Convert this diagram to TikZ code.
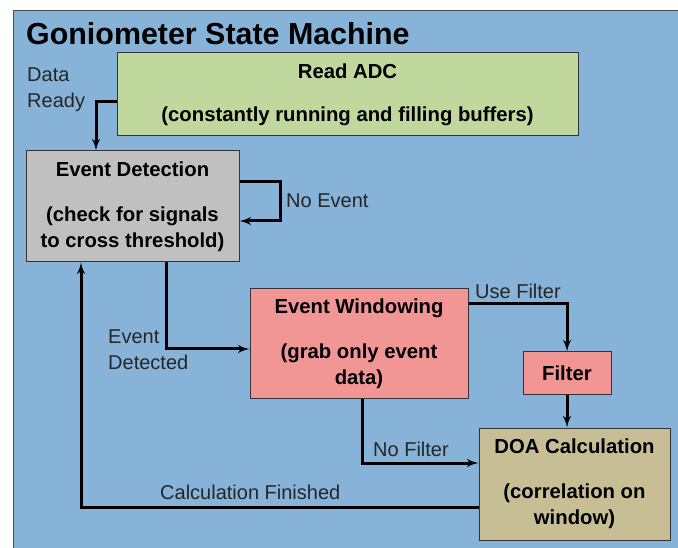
\documentclass[tikz,border=0pt]{standalone}
\usepackage{fontspec}
\setmainfont{Liberation Sans}
\usetikzlibrary{shapes, arrows, positioning}
\definecolor{bgblue}{RGB}{135,179,217}
\definecolor{adcgreen}{RGB}{192,215,157}
\definecolor{detgray}{RGB}{192,192,192}
\definecolor{winred}{RGB}{241,150,148}
\definecolor{doatan}{RGB}{199,190,150}
\tikzstyle{box} = [draw=black!80, line width=1pt, inner sep=0pt, align=center, font=\bfseries\fontsize{20.3}{26}\selectfont]
\tikzstyle{lbl} = [inner sep=0pt, anchor=west, align=left, font=\fontsize{20}{26}\selectfont, text=black!85]
\tikzstyle{arr} = [draw, line width=3pt, -latex']

\begin{document}
\begin{tikzpicture}[x=1pt, y=-1pt]

\useasboundingbox (0,0) rectangle (678,548);
\draw [fill=bgblue, draw=black!70, line width=1pt] (13,11) rectangle (690,560);

% title
\node [lbl, text=black, font=\bfseries\fontsize{30.4}{30}\selectfont] at (26,34) (title) {Goniometer State Machine};

% nodes
\node [box, fill=adcgreen, minimum width=461, minimum height=83] at (347.5, 94.5) (adc)
      {Read ADC\\[17pt](constantly running and filling buffers)};
\node [box, fill=detgray, minimum width=213, minimum height=111] at (132.5, 206.5) (det)
      {Event Detection\\[19pt](check for signals\\to cross threshold)};
\node [box, fill=winred, minimum width=218, minimum height=109] at (359, 343.5) (win)
      {Event Windowing\\[19pt](grab only event\\data)};
\node [box, fill=winred, minimum width=88, minimum height=42] at (567, 373) (filt) {Filter};
\node [box, fill=doatan, minimum width=191, minimum height=112] at (574.5, 484) (doa)
      {DOA Calculation\\[19pt](correlation on\\window)};

% edges
\draw [arr] ([yshift=-7.5pt]adc.west) -| ([xshift=-36.5pt]det.north);
\draw [arr] ([yshift=24.5pt]det.east) -- ++(41,0) |- ([yshift=-14.5pt]det.east);
\draw [arr] ([xshift=33.5pt]det.south) |- ([yshift=-5.5pt]win.west);
\draw [arr] ([yshift=39.5pt]win.east) -| (filt.north);
\draw [arr] (filt.south) -- (filt.south |- doa.north);
\draw [arr] ([xshift=3pt]win.south) |- ([yshift=21pt]doa.west);
\draw [arr] ([yshift=-23pt]doa.west) -| ([xshift=-51.5pt]det.south);

% labels
\node [lbl] at (27, 90)  (ready)    {Data\\Ready};
\node [lbl] at (286, 201) (noevent) {No Event};
\node [lbl] at (108, 350) (evdet)   {Event\\Detected};
\node [lbl] at (475, 291) (usefilt) {Use Filter};
\node [lbl] at (373, 449) (nofilt)  {No Filter};
\node [lbl] at (160, 492) (calcfin) {Calculation Finished};

\end{tikzpicture}
\end{document}
